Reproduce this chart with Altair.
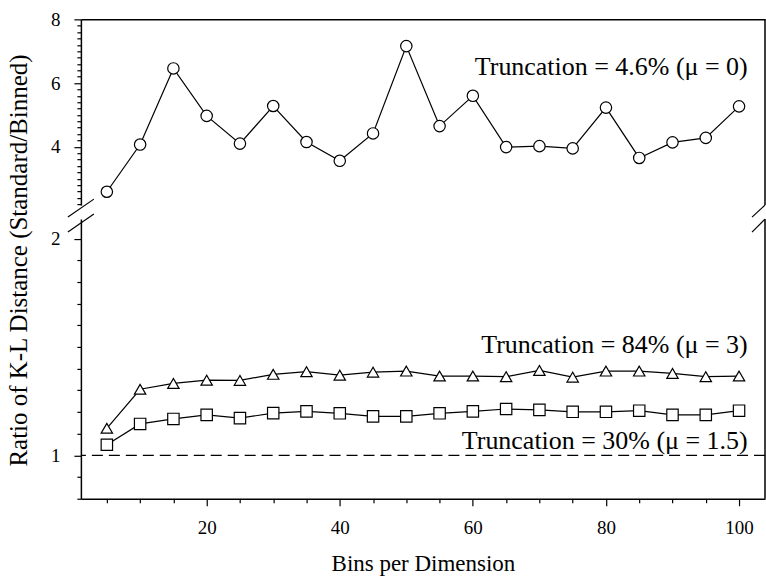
import altair as alt
import pandas as pd

# ---------------- data ----------------
bins = [5, 10, 15, 20, 25, 30, 35, 40, 45, 50, 55, 60, 65, 70, 75, 80, 85, 90, 95, 100]
ratio_mu0 = [2.59, 4.07, 6.46, 4.97, 4.10, 5.28, 4.15, 3.56, 4.42, 7.16,
             4.65, 5.60, 3.99, 4.02, 3.95, 5.23, 3.65, 4.14, 4.28, 5.27]
ratio_mu3 = [1.125, 1.305, 1.332, 1.347, 1.346, 1.374, 1.386, 1.370, 1.384, 1.389,
             1.366, 1.366, 1.363, 1.392, 1.361, 1.389, 1.389, 1.378, 1.363, 1.366]
ratio_mu15 = [1.049, 1.145, 1.168, 1.187, 1.172, 1.195, 1.203, 1.194, 1.180, 1.180,
              1.194, 1.203, 1.214, 1.210, 1.201, 1.201, 1.206, 1.187, 1.187, 1.206]
ref_line = [1.0]

x_ticks = bins
upper_ticks = [round(2.2 + 0.2 * i, 1) for i in range(30)]
lower_ticks = [round(0.8 + 0.1 * i, 1) for i in range(13)]

ann_panel = ["upper", "lower", "lower"]
ann_text = ["Truncation = 4.6% (\u03bc = 0)", "Truncation = 84% (\u03bc = 3)",
            "Truncation = 30% (\u03bc = 1.5)"]
ann_x = [101.3, 101.3, 101.3]
ann_y = [6.5, 1.51, 1.067]

# axis domains (frame edges)
X_DOM = [1.1, 103.9]
Y_UP_DOM = [2.17, 8.0]
Y_LO_DOM = [0.8, 2.09]

# ---------------- layout ----------------
FONT = "Liberation Serif"
W = 685
H_UP = 186
H_LO = 280
LW = 1.2
FW = 1.5

up_df = pd.DataFrame({"bins": bins, "ratio": ratio_mu0})
lo_df = pd.DataFrame({
    "bins": bins + bins,
    "ratio": ratio_mu3 + ratio_mu15,
    "series": ["mu3"] * len(bins) + ["mu15"] * len(bins),
})
ann_df = pd.DataFrame({"panel": ann_panel, "text": ann_text, "x": ann_x, "y": ann_y})
ref_df = pd.DataFrame({"ref": ref_line})
dummy = pd.DataFrame({"a": [0]})

xs = alt.Scale(domain=X_DOM, nice=False, zero=False)
ys_up = alt.Scale(domain=Y_UP_DOM, nice=False, zero=False)
ys_lo = alt.Scale(domain=Y_LO_DOM, nice=False, zero=False)

up_major = "abs(datum.value/2 - round(datum.value/2)) < 0.001"
lo_major = "abs(datum.value - round(datum.value)) < 0.001"
x_major = "datum.value % 20 === 0"

ax_up_x = alt.Axis(orient="top", labels=False, ticks=False, title=None, grid=False,
                   domain=True, domainColor="black", domainWidth=FW)
ax_up_y = alt.Axis(orient="left", values=upper_ticks, title=None, grid=False,
                   labelExpr=up_major + " ? format(datum.value, 'd') : ''",
                   tickSize={"condition": {"test": up_major, "value": 7}, "value": 4},
                   labelOverlap=False, labelPadding=14, domain=True,
                   domainColor="black", domainWidth=FW)
ax_lo_x = alt.Axis(orient="bottom", values=x_ticks, title="Bins per Dimension", grid=False,
                   labelExpr=x_major + " ? format(datum.value, 'd') : ''",
                   tickSize={"condition": {"test": x_major, "value": 7}, "value": 4},
                   labelOverlap=False, labelPadding=13, titlePadding=15, labelFlush=False,
                   titleFontSize=23, domain=True, domainColor="black", domainWidth=FW)
ax_lo_y = alt.Axis(orient="left", values=lower_ticks, grid=False,
                   title="Ratio of K-L Distance (Standard/Binned)",
                   labelExpr=lo_major + " ? format(datum.value, 'd') : ''",
                   tickSize={"condition": {"test": lo_major, "value": 7}, "value": 4},
                   labelOverlap=False, labelPadding=14, titleX=-62, titleY=41, titleAngle=270,
                   titleAlign="center", titleBaseline="middle", titleFontSize=25, domain=True,
                   domainColor="black", domainWidth=FW)

# ======== upper panel ========
line_up = alt.Chart(up_df).mark_line(color="black", strokeWidth=LW).encode(
    x=alt.X("bins:Q", scale=xs, axis=ax_up_x),
    y=alt.Y("ratio:Q", scale=ys_up, axis=ax_up_y),
)
pts_up = alt.Chart(up_df).mark_point(shape="circle", filled=True, color="white", stroke="black",
                                     strokeWidth=LW, size=130, opacity=1).encode(
    x=alt.X("bins:Q", scale=xs, axis=ax_up_x),
    y=alt.Y("ratio:Q", scale=ys_up, axis=ax_up_y),
)
text_up = alt.Chart(ann_df).transform_filter(alt.datum.panel == "upper").mark_text(
    font=FONT, fontSize=26, align="right", baseline="middle", color="black"
).encode(
    x=alt.X("x:Q", scale=xs, axis=ax_up_x),
    y=alt.Y("y:Q", scale=ys_up, axis=ax_up_y),
    text="text:N",
)
right_up = alt.Chart(dummy).mark_rule(color="black", strokeWidth=FW).encode(
    x=alt.XDatum(X_DOM[1], scale=xs, axis=ax_up_x))
brk_up_l = alt.Chart(dummy).mark_rule(color="black", strokeWidth=LW).encode(
    x=alt.value(-13), x2=alt.value(13), y=alt.value(H_UP + 12), y2=alt.value(H_UP - 6))
brk_up_r = alt.Chart(dummy).mark_rule(color="black", strokeWidth=LW).encode(
    x=alt.value(W - 13), x2=alt.value(W), y=alt.value(H_UP + 12), y2=alt.value(H_UP))

upper = alt.layer(line_up, pts_up, text_up, right_up, brk_up_l, brk_up_r).properties(
    width=W, height=H_UP)

# ======== lower panel ========
shape_scale = alt.Scale(domain=["mu3", "mu15"], range=["triangle-up", "square"])

ref_rule = alt.Chart(ref_df).mark_rule(color="black", strokeWidth=LW, strokeDash=[11, 6]).encode(
    y=alt.Y("ref:Q", scale=ys_lo, axis=ax_lo_y))
line_lo = alt.Chart(lo_df).mark_line(color="black", strokeWidth=LW).encode(
    x=alt.X("bins:Q", scale=xs, axis=ax_lo_x),
    y=alt.Y("ratio:Q", scale=ys_lo, axis=ax_lo_y),
    detail="series:N",
)
pts_lo = alt.Chart(lo_df).mark_point(filled=True, color="white", stroke="black",
                                     strokeWidth=LW, size=130, opacity=1).encode(
    x=alt.X("bins:Q", scale=xs, axis=ax_lo_x),
    y=alt.Y("ratio:Q", scale=ys_lo, axis=ax_lo_y),
    shape=alt.Shape("series:N", scale=shape_scale, legend=None),
)
text_lo = alt.Chart(ann_df).transform_filter(alt.datum.panel == "lower").mark_text(
    font=FONT, fontSize=26, align="right", baseline="middle", color="black"
).encode(
    x=alt.X("x:Q", scale=xs, axis=ax_lo_x),
    y=alt.Y("y:Q", scale=ys_lo, axis=ax_lo_y),
    text="text:N",
)
right_lo = alt.Chart(dummy).mark_rule(color="black", strokeWidth=FW).encode(
    x=alt.XDatum(X_DOM[1], scale=xs, axis=ax_lo_x))
brk_lo_l = alt.Chart(dummy).mark_rule(color="black", strokeWidth=LW).encode(
    x=alt.value(-13), x2=alt.value(13), y=alt.value(13), y2=alt.value(-5))
brk_lo_r = alt.Chart(dummy).mark_rule(color="black", strokeWidth=LW).encode(
    x=alt.value(W - 13), x2=alt.value(W), y=alt.value(13), y2=alt.value(0))

lower = alt.layer(line_lo, ref_rule, pts_lo, text_lo, right_lo, brk_lo_l, brk_lo_r).properties(
    width=W, height=H_LO)

chart = alt.vconcat(upper, lower, spacing=14, bounds="flush").properties(
    padding={"left": 6, "top": 10, "right": 0, "bottom": 5}
).configure_view(stroke=None).configure_axis(
    labelFont=FONT, titleFont=FONT, labelFontSize=19, titleFontSize=22,
    labelColor="black", titleColor="black", tickColor="black", tickWidth=LW,
    titleFontWeight="normal",
)

chart.save("out.html", embed_options={"renderer": "svg", "actions": False})
